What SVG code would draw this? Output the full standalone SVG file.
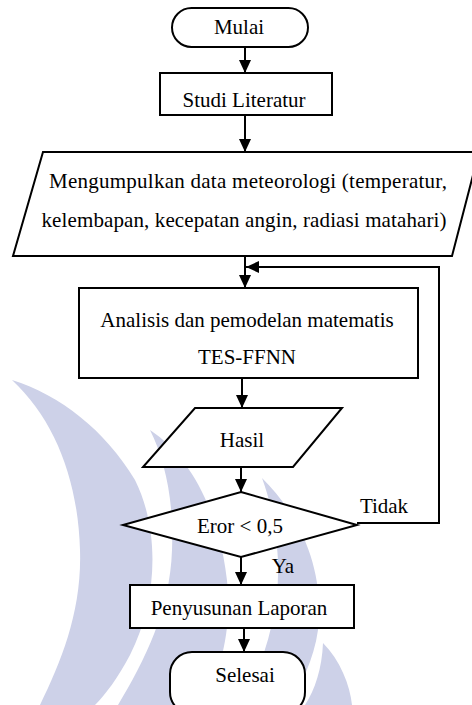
<svg xmlns="http://www.w3.org/2000/svg" width="472" height="705" viewBox="0 0 472 705">
<style>
.shape{fill:#ffffff;stroke:#000000;stroke-width:2}
.line{fill:none;stroke:#000000;stroke-width:2}
.t{font-family:'Liberation Serif','Times New Roman',Tinos,'DejaVu Serif',serif;font-size:21px;fill:#000000;text-anchor:middle}
.wm{fill:#cdd1e8}
</style>
<defs>
<marker id="arr" viewBox="0 0 13 12" refX="13" refY="6" markerWidth="13" markerHeight="12" markerUnits="userSpaceOnUse" orient="auto">
<path d="M0,0 L13,6 L0,12 Z" fill="#000000"/>
</marker>
</defs>
<rect width="472" height="705" fill="#ffffff"/>
<g id="watermark">
<path class="wm" d="M12,380 C60,395 105,430 135,480 C160,530 158,600 130,655 C118,678 105,695 95,705 L40,705 C62,660 82,610 80,550 C78,480 55,420 12,380 Z"/>
<path class="wm" d="M150,430 C195,460 222,520 228,590 C231,640 216,680 204,705 L118,705 C145,660 170,610 172,550 C174,500 165,460 150,430 Z"/>
<path class="wm" d="M262,478 C300,515 325,570 318,630 C314,660 300,685 290,705 L242,705 C265,660 280,610 278,560 C276,525 270,500 262,478 Z"/>
<path class="wm" d="M323,643 C340,660 350,685 352,705 L305,705 C315,690 322,668 323,643 Z"/>
</g>
<g id="connectors">
<line class="line" x1="245" y1="47" x2="245" y2="73" marker-end="url(#arr)"/>
<line class="line" x1="245" y1="115" x2="245" y2="152" marker-end="url(#arr)"/>
<line class="line" x1="245" y1="256" x2="245" y2="288" marker-end="url(#arr)"/>
<line class="line" x1="242" y1="378" x2="242" y2="408" marker-end="url(#arr)"/>
<line class="line" x1="241" y1="467" x2="241" y2="492" marker-end="url(#arr)"/>
<line class="line" x1="241" y1="557" x2="241" y2="585" marker-end="url(#arr)"/>
<line class="line" x1="244" y1="628" x2="244" y2="652" marker-end="url(#arr)"/>
<polyline class="line" points="357,523 439,523 439,267 246,267" marker-end="url(#arr)"/>
<text class="t" x="384" y="513">Tidak</text>
<text class="t" x="283" y="573">Ya</text>
</g>
<g id="mulai">
<rect class="shape" x="172" y="8" width="136" height="39" rx="19.5" ry="19.5"/>
<text class="t" x="239" y="34">Mulai</text>
</g>
<g id="studi">
<rect class="shape" x="160" y="73" width="172" height="42"/>
<text class="t" x="244" y="107">Studi Literatur</text>
</g>
<g id="mengumpulkan">
<polygon class="shape" points="43,152 479,152 452,256 13,256"/>
<text class="t" x="248" y="188" textLength="398" lengthAdjust="spacing">Mengumpulkan data meteorologi (temperatur,</text>
<text class="t" x="244" y="227" textLength="405" lengthAdjust="spacing">kelembapan, kecepatan angin, radiasi matahari)</text>
</g>
<g id="analisis">
<rect class="shape" x="79" y="288" width="339" height="90"/>
<text class="t" x="247" y="327">Analisis dan pemodelan matematis</text>
<text class="t" x="247" y="364">TES-FFNN</text>
</g>
<g id="hasil">
<polygon class="shape" points="195,408 342,408 293,467 143,467"/>
<text class="t" x="242" y="447">Hasil</text>
</g>
<g id="eror">
<polygon class="shape" points="241,492 357,525 241,557 123,525"/>
<text class="t" x="240" y="533">Eror &lt; 0,5</text>
</g>
<g id="penyusunan">
<rect class="shape" x="130" y="585" width="224" height="43"/>
<text class="t" x="239" y="615">Penyusunan Laporan</text>
</g>
<g id="selesai">
<rect class="shape" x="170" y="652" width="135" height="62" rx="22" ry="22"/>
<text class="t" x="245" y="682">Selesai</text>
</g>
</svg>
